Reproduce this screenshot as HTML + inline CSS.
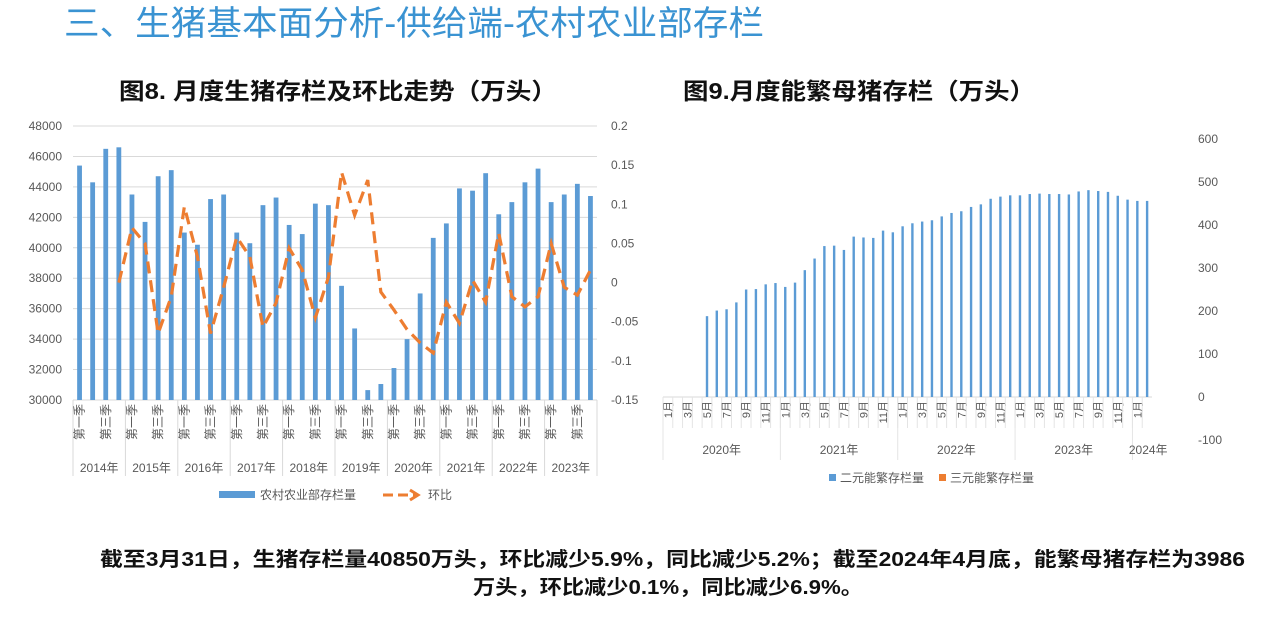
<!DOCTYPE html>
<html><head><meta charset="utf-8"><style>
body{margin:0;width:1267px;height:613px;background:#fff;overflow:hidden;font-family:"Liberation Sans","Noto Sans CJK SC",sans-serif;}
</style></head><body>
<svg id="s" width="1267" height="613" xmlns="http://www.w3.org/2000/svg" font-family="Liberation Sans, Noto Sans CJK SC, sans-serif">
<text x="64" y="35" font-size="34" fill="#3a93d2" textLength="700" lengthAdjust="spacingAndGlyphs">三、生猪基本面分析-供给端-农村农业部存栏</text>
<text x="119" y="99" font-size="23" font-weight="bold" fill="#111" textLength="438" lengthAdjust="spacingAndGlyphs">图8. 月度生猪存栏及环比走势（万头）</text>
<text x="683" y="99" font-size="23" font-weight="bold" fill="#111" textLength="352" lengthAdjust="spacingAndGlyphs">图9.月度能繁母猪存栏（万头）</text>
<g id="c1"></g>
<g id="c2"></g>
<text x="100" y="566" font-size="20" font-weight="bold" fill="#111" textLength="1145" lengthAdjust="spacingAndGlyphs">截至3月31日，生猪存栏量40850万头，环比减少5.9%，同比减少5.2%；截至2024年4月底，能繁母猪存栏为3986</text>
<text x="473" y="594" font-size="20" font-weight="bold" fill="#111" textLength="390" lengthAdjust="spacingAndGlyphs">万头，环比减少0.1%，同比减少6.9%。</text>
</svg>
<script>
const years1=["2014年","2015年","2016年","2017年","2018年","2019年","2020年","2021年","2022年","2023年"];
const stock=[45400,44300,46500,46600,43500,41700,44700,45100,41000,40200,43200,43500,41000,40300,42800,43300,41500,40900,42900,42800,37500,34700,30650,31050,32100,34000,37000,40650,41600,43900,43750,44900,42200,43000,44300,45200,43000,43500,44200,43400];
const qoq=[null,null,null,0.0,0.07,0.05,-0.065,-0.018,0.097,0.033,-0.065,-0.006,0.058,0.033,-0.057,-0.026,0.044,0.016,-0.045,0.007,0.141,0.086,0.131,-0.012,-0.035,-0.06,-0.077,-0.09,-0.025,-0.052,0.003,-0.025,0.063,-0.018,-0.031,-0.018,0.05,-0.006,-0.016,0.016];
const leftTicks=[30000,32000,34000,36000,38000,40000,42000,44000,46000,48000];
const rightTicks=["-0.15","-0.1","-0.05","0","0.05","0.1","0.15","0.2"];
const years2=["2020年","2021年","2022年","2023年","2024年"];
const sows=[null,null,null,null,188,201,204,220,250,251,262,265,256,266,295,322,351,352,342,373,371,370,387,383,397,404,408,411,420,428,432,442,448,461,466,469,469,472,473,472,472,471,478,481,479,477,468,459,456,456];
const ticks2=[-100,0,100,200,300,400,500,600];
const NS="http://www.w3.org/2000/svg";
function mk(p,t,a,txt){const e=document.createElementNS(NS,t);for(const k in a)e.setAttribute(k,a[k]);if(txt!=null)e.textContent=txt;p.appendChild(e);return e;}
// chart 8
const c1=document.getElementById('c1');
const X0=73,X1=597,Y0=400,Y1=126,n=stock.length,step=(X1-X0)/n;
const yL=v=>Y0-(v-30000)/18000*(Y0-Y1);
const yR=v=>Y0-(v+0.15)/0.35*(Y0-Y1);
const xc=i=>X0+step*(i+0.5);
leftTicks.forEach(v=>{
 const g=mk(c1,'line',{x1:X0,x2:X1,y1:yL(v),y2:yL(v),stroke:'#d9d9d9','stroke-width':1});
 
 
 const t=mk(c1,'text',{x:62,y:yL(v)+4,'font-size':12,fill:'#595959','text-anchor':'end'},v);
 
 
});
rightTicks.forEach((s,i)=>{
 const t=mk(c1,'text',{x:611,y:yR(parseFloat(s))+4,'font-size':12,fill:'#595959'},s);
 
 
});
stock.forEach((v,i)=>{
 const r=mk(c1,'rect',{x:xc(i)-2.4,y:yL(v),width:4.8,height:Y0-yL(v),fill:'#5b9bd5'});
 
 
});
let pts=[];qoq.forEach((v,i)=>{if(v!=null)pts.push(xc(i)+','+yR(v));});
const pl=mk(c1,'polyline',{points:pts.join(' '),fill:'none',stroke:'#ed7d31','stroke-width':3.2,'stroke-dasharray':'12,7'});


years1.forEach((y,k)=>{
 const xa=X0+k*4*step;
 const l=mk(c1,'line',{x1:xa,x2:xa,y1:Y0,y2:476,stroke:'#d9d9d9'});
 
 
 const t=mk(c1,'text',{x:xa+2*step,y:472,'font-size':12,fill:'#595959','text-anchor':'middle'},y);
 
 
 [["第一季",0],["第三季",2]].forEach(([s,q])=>{
  const x=xc(k*4+q)+4,yy=404;
  const tt=mk(c1,'text',{x:x,y:yy,'font-size':12,fill:'#595959','text-anchor':'end',transform:`rotate(-90 ${x} ${yy})`},s);
  
  
 });
});
{const l=mk(c1,'line',{x1:X1,x2:X1,y1:Y0,y2:476,stroke:'#d9d9d9'});}
{const r=mk(c1,'rect',{x:219,y:491,width:36,height:7,fill:'#5b9bd5'});
const t=mk(c1,'text',{x:260,y:499,'font-size':12,fill:'#595959'},'农村农业部存栏量');
const l=mk(c1,'line',{x1:383,x2:416,y1:495,y2:495,stroke:'#ed7d31','stroke-width':3,'stroke-dasharray':'10,5'});
const a=mk(c1,'polyline',{points:'410,490 418,495 410,500',fill:'none',stroke:'#ed7d31','stroke-width':3});
const t2=mk(c1,'text',{x:428,y:499,'font-size':12,fill:'#595959'},'环比');}
// chart 9
const c2=document.getElementById('c2');
const A0=663,A1=1152,m=sows.length,st2=(A1-A0)/m;
const y2=v=>397-v*0.43;
const x2=i=>A0+st2*(i+0.5);
ticks2.forEach(v=>{
 const t=mk(c2,'text',{x:1198,y:y2(v)+4,'font-size':12,fill:'#595959'},v);
 
 
});
{const l=mk(c2,'line',{x1:A0,x2:A1,y1:397,y2:397,stroke:'#d9d9d9'});}
sows.forEach((v,i)=>{
 if(v==null)return;
 const r=mk(c2,'rect',{x:x2(i)-1.2,y:y2(v),width:2.4,height:397-y2(v),fill:'#5b9bd5'});
 
 
});
for(let i=0;i<m;i++){
 const l=mk(c2,'line',{x1:A0+i*st2,x2:A0+i*st2,y1:397,y2:428,stroke:'#e4e4e4'});
 
 
 if(i%2===0){const mo=(i%12)+1;const x=x2(i)+4,yy=401;
  const t=mk(c2,'text',{x:x,y:yy,'font-size':11,fill:'#595959','text-anchor':'end',transform:`rotate(-90 ${x} ${yy})`},mo+'月');
  
  }
}
years2.forEach((y,k)=>{
 const xa=A0+k*12*st2;const w=Math.min(12,m-k*12)*st2;
 const l=mk(c2,'line',{x1:xa,x2:xa,y1:397,y2:460,stroke:'#e4e4e4'});
 
 
 const t=mk(c2,'text',{x:k<4?xa+w/2:xa+w/2+6,y:454,'font-size':12,fill:'#595959','text-anchor':'middle'},y);
 
 
});
{const r=mk(c2,'rect',{x:829,y:474,width:7,height:7,fill:'#5b9bd5'});
const t=mk(c2,'text',{x:840,y:482,'font-size':12,fill:'#595959'},'二元能繁存栏量');
const r2=mk(c2,'rect',{x:939,y:474,width:7,height:7,fill:'#ed7d31'});
const t2=mk(c2,'text',{x:950,y:482,'font-size':12,fill:'#595959'},'三元能繁存栏量');}
</script>
</body></html>
